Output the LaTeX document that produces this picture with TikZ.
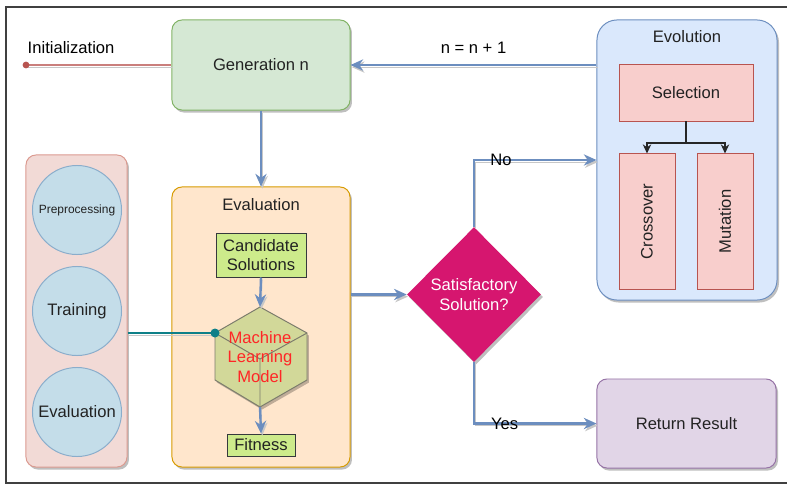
\documentclass[tikz,border=0pt]{standalone}
\usepackage{fontspec}
\setmainfont{Liberation Sans}
\usepackage{tikz}
\usetikzlibrary{arrows.meta,calc,positioning,shapes,shadows}

\definecolor{genfill}{HTML}{D5E8D4}
\definecolor{gendraw}{HTML}{82B366}
\definecolor{evalfill}{HTML}{FFE6CC}
\definecolor{evaldraw}{HTML}{D79B00}
\definecolor{evofill}{HTML}{DAE8FC}
\definecolor{evodraw}{HTML}{6C8EBF}
\definecolor{flowblue}{HTML}{6C8EBF}
\definecolor{opfill}{HTML}{F8CECC}
\definecolor{opdraw}{HTML}{B85450}
\definecolor{retfill}{HTML}{E1D5E7}
\definecolor{retdraw}{HTML}{9673A6}
\definecolor{mlfill}{HTML}{F2DAD6}
\definecolor{mldraw}{HTML}{DB9A90}
\definecolor{stepfill}{HTML}{C4DDE9}
\definecolor{stepdraw}{HTML}{8AADCB}
\definecolor{candfill}{HTML}{CDEB8B}
\definecolor{candraw}{HTML}{36393D}
\definecolor{cubefill}{HTML}{D2D899}
\definecolor{cubedraw}{HTML}{7C7C6C}
\definecolor{decfill}{HTML}{D6166F}
\definecolor{linkteal}{HTML}{0E8088}
\definecolor{txt}{HTML}{222222}

\begin{document}
\begin{tikzpicture}[x=0.025cm,y=-0.025cm,>=stealth,
				font=\fontsize{11.8}{14}\selectfont,text=txt
				,shade/.style={drop shadow={shadow xshift=1.4pt,shadow yshift=-1.8pt,opacity=0.25,fill=black}}
				,bigbox/.style={draw=#1draw,fill=#1fill,rounded corners=0.25cm,line width=0.7pt,shade}
				,opbox/.style={draw=opdraw,fill=opfill,line width=0.7pt,inner sep=0pt}
				,greenbox/.style={draw=candraw,fill=candfill,line width=0.7pt,inner sep=1pt,align=center}
				,stepcirc/.style={circle,draw=stepdraw,fill=stepfill,line width=0.7pt,minimum size=2.225cm,inner sep=0pt}
				,lineshade/.style={preaction={draw=black!22,transform canvas={shift={(0.9pt,-1.5pt)}}}}
				,flow/.style={draw=flowblue,line width=1.7pt,-{Stealth[length=9pt,width=8pt]},lineshade}
				,small/.style={draw=black!85,line width=0.8pt,-{Stealth[length=6.5pt,width=6pt]}}
				]
				\useasboundingbox (0,0) rectangle (787,485);
				\draw[black!75,line width=0.8pt] (787,7) -- (6,7) -- (6,483) -- (787,483);
				
				% main boxes
				\node[bigbox=gen,minimum width=4.45cm,minimum height=2.25cm] (gen) at (261,65) {Generation n};
				\node[bigbox=eval,minimum width=4.45cm,minimum height=7cm] (evalbox) at (261,327) {};
				\node (evaltitle) at (261,205) {Evaluation};
				\node[bigbox=evo,rounded corners=0.5cm,minimum width=4.5cm,minimum height=7cm] (evo) at (687,160) {};
				\node (evotitle) at (687,37) {Evolution};
				\node[bigbox=ret,minimum width=4.475cm,minimum height=2.225cm] (ret) at (686.5,423.5) {Return Result};
				\node[bigbox=ml,minimum width=2.525cm,minimum height=7.8cm] (lbox) at (76.5,311) {};
				
				% training steps
				\node[stepcirc,font=\fontsize{8.5}{10}\selectfont] (pre) at (77,210) {Preprocessing};
				\node[stepcirc] (train) at (77,311) {Training};
				\node[stepcirc] (evalstep) at (77,412) {Evaluation};
				
				% inside evaluation
				\node[greenbox,minimum width=2.25cm,minimum height=1.1cm] (cand) at (261,255) {Candidate\\Solutions};
				\node[greenbox,minimum width=1.7cm,minimum height=0.55cm] (fit) at (261,445) {Fitness};
				\coordinate (mltop) at (260,307);
				\coordinate (mlleft) at (215,333);
				\coordinate (mlbot) at (260,407);
				\coordinate (mlmid) at (260,359);
				\draw[draw=cubedraw,fill=cubefill,line width=0.7pt,shade] (mltop) -- (307,333) -- (307,380) -- (mlbot) -- (215,380) -- (mlleft) -- cycle;
				\draw[cubedraw,line width=0.7pt] (mlleft) -- (mlmid) -- (307,333) (mlmid) -- (mlbot);
				\node[text=red!85!white,align=center,inner sep=0pt] (mlm) at (260,357) {Machine\\Learning\\Model};
				
				% decision
				\node[diamond,fill=decfill,text=white,align=center,inner sep=0pt,minimum width=3.35cm,minimum height=3.37cm,shade] (dec) at (474,294.5) {Satisfactory\\Solution?};
				
				% evolution operators
				\node[opbox,minimum width=3.35cm,minimum height=1.4cm] (sel) at (686,93) {Selection};
				\node[opbox,minimum width=1.4cm,minimum height=3.375cm] (cross) at (647,221.5) {\rotatebox{90}{Crossover}};
				\node[opbox,minimum width=1.4cm,minimum height=3.375cm] (mut) at (725,221.5) {\rotatebox{90}{Mutation}};
				\coordinate (split) at (686,143);
				\draw[black!85,line width=0.8pt] (sel.south) -- (split);
				\draw[small] (split) -| (cross.north);
				\draw[small] (split) -| (mut.north);
				
				% connectors
				\coordinate (start) at (26,65);
				\draw[opdraw!75!white,line width=1.3pt,lineshade] (start) -- (gen.west) node[pos=0.31,above=4pt,text=black] {Initialization};
				\fill[opdraw] (start) circle (2.4pt);
				\draw[flow] (gen.south) -- (evalbox.north);
				\draw[flow] (cand.south) -- (mltop);
				\draw[flow] (mlbot) -- (fit.north);
				\draw[linkteal,line width=1.4pt,lineshade] (lbox.east |- mlleft) -- (mlleft);
				\fill[linkteal] (mlleft) circle (3.2pt);
				\draw[flow] (evalbox.east |- dec.west) -- (dec.west);
				\draw[flow] (dec.north) |- (evo.west) node[pos=0.61,text=black] {No};
				\draw[flow] (dec.south) |- (ret.west) node[pos=0.625,text=black] {Yes};
				\draw[flow] (evo.west |- gen.east) -- (gen.east) node[midway,above=4pt,text=black] {n = n + 1};
			\end{tikzpicture}
\end{document}
